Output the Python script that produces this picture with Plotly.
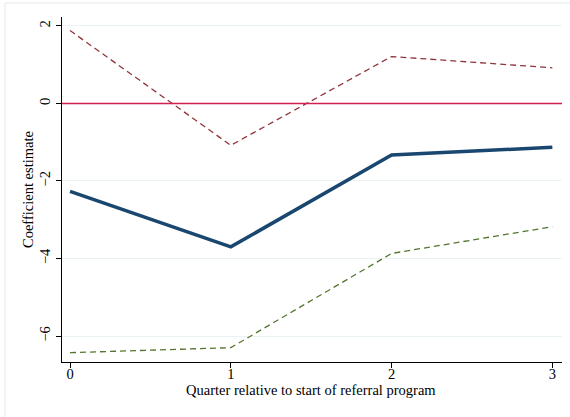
import plotly.graph_objects as go

quarters = [0, 1, 2, 3]
estimate = [-2.27, -3.70, -1.33, -1.13]
ci_upper = [1.88, -1.08, 1.21, 0.92]
ci_lower = [-6.43, -6.30, -3.87, -3.18]
y_ticks = [-6, -4, -2, 0, 2]
x_title = "Quarter relative to start of referral program"
y_title = "Coefficient estimate"

fig = go.Figure()
fig.add_trace(go.Scatter(x=quarters, y=ci_upper, mode="lines",
                         line=dict(color="#90353b", width=1.3, dash="6px,4px")))
fig.add_trace(go.Scatter(x=quarters, y=ci_lower, mode="lines",
                         line=dict(color="#55752f", width=1.3, dash="6px,4px")))
fig.add_trace(go.Scatter(x=quarters, y=estimate, mode="lines",
                         line=dict(color="#1a476f", width=3.5)))

fig.add_shape(type="line", xref="paper", x0=0, x1=1, yref="y", y0=0, y1=0,
              line=dict(color="#d21f4f", width=1.6))
fig.add_shape(type="rect", xref="paper", yref="paper",
              x0=-0.114, x1=1.03, y0=-0.2, y1=1.0406,
              line=dict(color="#e4e8ea", width=1), layer="below")

font = dict(family="Liberation Serif", size=14.5, color="#000000")
# pixel helpers for plot area: l=62, w=500, t=17, h=345
fig.add_annotation(text=x_title, xref="paper", yref="paper",
                   x=(311 - 62) / 500, y=-(390 - 362) / 345,
                   showarrow=False, font=font, xanchor="center", yanchor="middle")
fig.add_annotation(text=y_title, xref="paper", yref="paper",
                   x=-(62 - 28) / 500, y=(362 - 190) / 345, textangle=-90,
                   showarrow=False, font=font, xanchor="center", yanchor="middle")

fig.update_layout(
    width=570, height=417,
    margin=dict(l=62, r=8, t=17, b=55),
    paper_bgcolor="white", plot_bgcolor="white",
    showlegend=False,
    font=font,
    xaxis=dict(range=[-0.05, 3.06], tickvals=quarters, ticks="outside", ticklen=5,
               tickcolor="#000", showline=True, linecolor="#000", linewidth=1,
               showgrid=False, zeroline=False, tickfont=font, ticklabelstandoff=-6),
    yaxis=dict(range=[-6.67, 2.23], tickvals=y_ticks, ticks="outside", ticklen=5,
               tickcolor="#000", showline=True, linecolor="#000", linewidth=1,
               showgrid=True, gridcolor="#eaf2f3", gridwidth=1, zeroline=False,
               tickangle=-90, tickfont=font),
)

fig.write_html("out.html")
